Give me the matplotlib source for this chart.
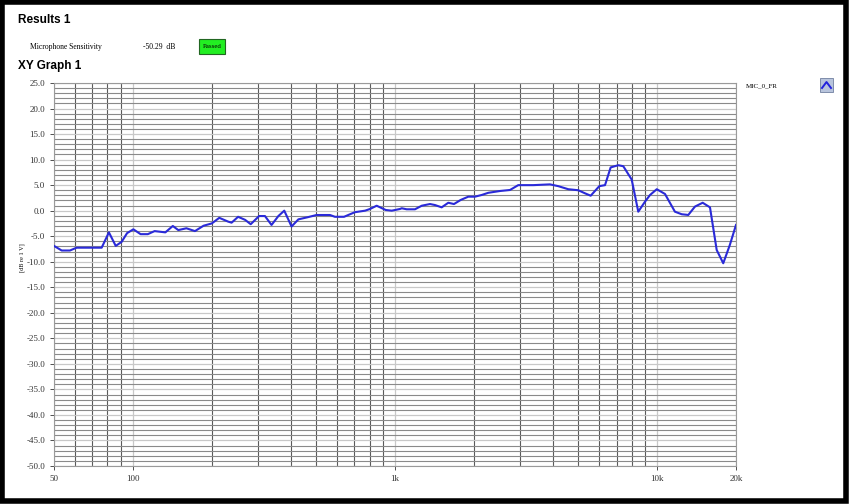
import numpy as np
import matplotlib
matplotlib.use("Agg")
import matplotlib.pyplot as plt
from matplotlib.patches import Rectangle
from matplotlib.ticker import FixedLocator, NullFormatter

# frequency response (Hz, dB re 1 V)
freq_hz = [50, 53.5, 57.5, 61, 76, 81, 86, 90.6, 95, 100.4, 107, 114, 121, 133,
           142, 149, 160, 172.5, 186, 200, 213.6, 231, 238, 252, 268, 281.5,
           303, 319, 338, 359, 378, 403, 428, 463, 502, 565, 590, 639, 703,
           769, 803, 851, 922, 972, 1045, 1061, 1108, 1192, 1265, 1360, 1421,
           1507, 1597, 1679, 1781, 1904, 2018, 2141, 2270, 2515, 2746, 2953,
           3370, 3902, 4198, 4583, 5003, 5307, 5580, 6019, 6328, 6650, 7113,
           7431, 7998, 8476, 8991, 9397, 9972, 10718, 11694, 12412, 13152,
           13946, 14925, 15914, 16880, 17880, 18950, 20000]
level_db = [-6.9, -7.8, -7.8, -7.25, -7.25, -4.25, -6.9, -6.1, -4.4, -3.65,
            -4.6, -4.6, -4.0, -4.25, -3.0, -3.8, -3.45, -4.0, -2.95, -2.5,
            -1.4, -2.15, -2.35, -1.2, -1.8, -2.65, -1.05, -1.05, -2.8, -1.05,
            0.0, -3.1, -1.7, -1.3, -0.85, -0.85, -1.2, -1.2, -0.3, 0.0, 0.33,
            0.97, 0.13, 0.0, 0.33, 0.47, 0.27, 0.27, 0.97, 1.3, 1.1, 0.65,
            1.55, 1.3, 2.1, 2.74, 2.74, 3.07, 3.5, 3.85, 4.05, 5.0, 5.0, 5.15,
            4.8, 4.2, 4.0, 3.4, 2.93, 4.8, 5.0, 8.47, 8.9, 8.7, 6.1, -0.2,
            1.76, 3.07, 4.2, 3.27, -0.2, -0.7, -0.84, 0.8, 1.55, 0.65, -7.7,
            -10.3, -6.7, -2.8]

x_ticks = [50, 100, 1000, 10000, 20000]
x_labels = ["50", "100", "1k", "10k", "20k"]
x_minor = [60, 70, 80, 90, 200, 300, 400, 500, 600, 700, 800, 900,
           2000, 3000, 4000, 5000, 6000, 7000, 8000, 9000]
y_ticks = np.arange(-50, 26, 5)
y_minor = [v for v in range(-50, 26) if v % 5 != 0]

sens_label = "Microphone Sensitivity"
sens_value = "-50.29  dB"
series_name = "MIC_0_FR"

fig = plt.figure(figsize=(8.5, 5.04), dpi=100)
ax = fig.add_axes([54 / 850, 1 - 466 / 504, 682 / 850, 383 / 504])

ax.plot(freq_hz, level_db, color="#2a2ad8", lw=1.5, zorder=5)

ax.set_xscale("log")
ax.set_xlim(50, 20000)
ax.set_ylim(-50, 25)
ax.xaxis.set_major_locator(FixedLocator(x_ticks))
ax.set_xticklabels(x_labels)
ax.xaxis.set_minor_locator(FixedLocator(x_minor))
ax.xaxis.set_minor_formatter(NullFormatter())
ax.set_yticks(y_ticks)
ax.set_yticklabels([f"{v:.1f}" for v in y_ticks])
ax.yaxis.set_minor_locator(FixedLocator(y_minor))

ax.grid(which="major", color="#c8c8c8", lw=0.9)
ax.grid(which="minor", axis="x", color="#5a5a5a", lw=0.8)
ax.grid(which="minor", axis="y", color="#8a8a8a", lw=0.8)
ax.tick_params(which="major", labelsize=6.5, colors="#333333", length=3, width=0.6)
ax.tick_params(which="minor", length=0)
for lbl in ax.get_xticklabels() + ax.get_yticklabels():
    lbl.set_family("Liberation Serif")
for s in ax.spines.values():
    s.set_color("#9a9a9a")
    s.set_linewidth(0.8)

ax.set_ylabel("[dB re 1 V]", fontsize=4.5, family="Liberation Serif")
ax.yaxis.set_label_coords(-0.043, 0.543)

# header texts
fig.text(18 / 850, 1 - 20 / 504, "Results 1", fontsize=8.5, fontweight="bold",
         family="Liberation Sans", va="center")
fig.text(30 / 850, 1 - 47 / 504, sens_label, fontsize=5.5, va="center",
         family="Liberation Serif")
fig.text(143 / 850, 1 - 47 / 504, sens_value, fontsize=5.5, va="center",
         family="Liberation Serif")
fig.patches.append(Rectangle((199 / 850, 1 - 54 / 504), 26 / 850, 15 / 504,
                             transform=fig.transFigure, facecolor="#22ee22",
                             edgecolor="#226622", lw=0.8))
fig.text(212 / 850, 1 - 46.5 / 504, "Passed", fontsize=5, va="center",
         ha="center", family="Liberation Serif")
fig.text(18 / 850, 1 - 66 / 504, "XY Graph 1", fontsize=8.5, fontweight="bold",
         family="Liberation Sans", va="center")

# legend
fig.text(746 / 850, 1 - 86 / 504, series_name, fontsize=5, va="center",
         family="Liberation Serif")
fig.patches.append(Rectangle((820 / 850, 1 - 92 / 504), 13 / 850, 14 / 504,
                             transform=fig.transFigure, facecolor="#b8c4dc",
                             edgecolor="#7080a0", lw=0.6))
fig.lines.append(plt.Line2D([822 / 850, 826.5 / 850, 831 / 850],
                            [1 - 88 / 504, 1 - 82 / 504, 1 - 88 / 504],
                            transform=fig.transFigure, color="#2222dd", lw=1.4))

# black frame around the whole panel
fig.patches.append(Rectangle((0.002, 0.006), 0.993, 0.99, transform=fig.transFigure,
                             fill=False, edgecolor="black", lw=4))

fig.savefig("out.png", dpi=100)
